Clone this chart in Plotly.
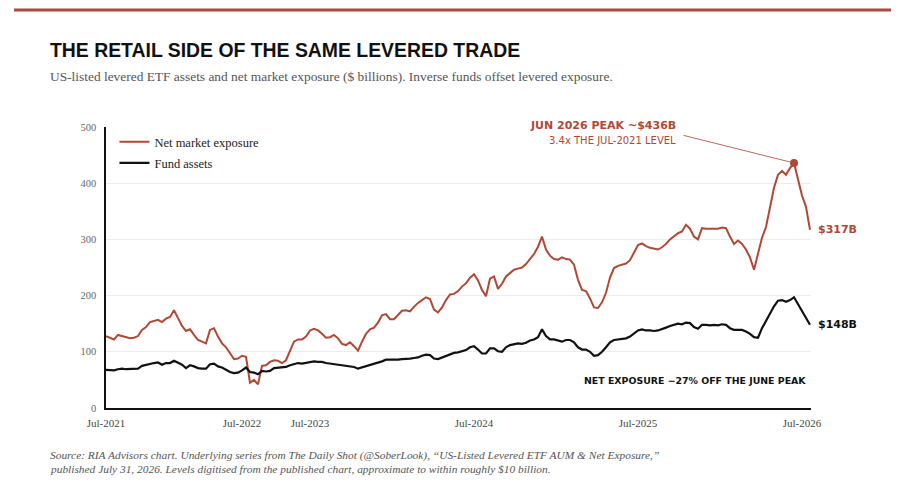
import plotly.graph_objects as go

# Weekly-ish readings, Jul-2021 .. end Jul-2026 ($ billions)
net_exposure = [
    128, 125, 122, 130, 128, 127, 124, 125, 128, 139,
    144, 153, 155, 157, 153, 159, 162, 174, 160, 146,
    137, 140, 130, 121, 118, 115, 139, 142, 127, 115,
    108, 97, 87, 88, 93, 91, 45, 50, 42, 75,
    76, 82, 85, 84, 80, 85, 100, 118, 122, 122,
    127, 138, 141, 138, 132, 125, 126, 130, 124, 114,
    112, 117, 110, 102, 118, 132, 140, 143, 152, 165,
    167, 158, 158, 166, 173, 174, 172, 180, 187, 192,
    197, 194, 175, 170, 179, 192, 202, 203, 208, 216,
    222, 232, 238, 227, 210, 199, 230, 234, 212, 221,
    234, 240, 246, 248, 250, 256, 264, 274, 287, 305,
    282, 271, 265, 264, 268, 265, 264, 255, 228, 210,
    208, 195, 179, 178, 188, 205, 232, 249, 253, 255,
    257, 263, 276, 290, 293, 288, 285, 283, 282, 286,
    292, 300, 306, 311, 314, 326, 319, 305, 300, 320,
    319, 319, 320, 319, 321, 320, 305, 292, 298, 292,
    282, 268, 246, 276, 303, 322, 358, 392, 415, 422,
    415, 427, 436, 408, 378, 358, 317,
]

fund_assets = [
    68, 68, 67, 69, 70, 69, 69, 69, 70, 75,
    77, 78, 80, 81, 77, 80, 80, 84, 81, 77,
    71, 76, 74, 71, 70, 70, 78, 79, 74, 72,
    68, 64, 62, 63, 67, 72, 64, 63, 60, 66,
    65, 66, 71, 72, 72, 73, 76, 78, 80, 79,
    80, 82, 83, 82, 82, 80, 79, 78, 78, 77,
    75, 74, 73, 70, 72, 74, 76, 79, 80, 83,
    86, 86, 85, 86, 87, 87, 88, 89, 90, 93,
    95, 94, 88, 87, 90, 93, 96, 98, 99, 101,
    103, 108, 110, 104, 97, 97, 106, 106, 101, 100,
    108, 112, 114, 115, 114, 116, 120, 122, 126, 140,
    128, 122, 122, 120, 118, 121, 121, 117, 108, 104,
    104, 100, 93, 94, 100, 108, 117, 121, 122, 123,
    124, 127, 133, 138, 140, 138, 138, 137, 138, 140,
    143, 146, 148, 150, 149, 152, 151, 144, 141, 148,
    148, 147, 148, 147, 149, 148, 142, 139, 139, 139,
    136, 132, 126, 125, 142, 155, 167, 181, 191, 192,
    189, 192, 197, 185, 171, 159, 148,
]

tick_labels = ["Jul-2021", "Jul-2022", "Jul-2023", "Jul-2024", "Jul-2025", "Jul-2026"]
tick_index = [0, 34, 51, 92, 133, 174]

RED = "#b04836"
BLACK = "#111111"
SERIF = "Liberation Serif, Times New Roman, serif"
SANS = "DejaVu Sans, Arial, sans-serif"

# the page body adds an 8px margin, so the figure is drawn 8px smaller
PAGE_PAD = 8
W, H = 904 - PAGE_PAD, 492 - PAGE_PAD
# plot area in page pixels, used to place the page furniture
L, R, T, B = 106, 811, 127, 408


def px(x, y):
    return (x - L) / (R - L), (B - y) / (B - T)


x = list(range(len(net_exposure)))
peak_i = max(x, key=lambda i: net_exposure[i])

fig = go.Figure()
fig.add_trace(go.Scatter(
    x=x, y=net_exposure, name="Net market exposure", mode="lines",
    legendgroup="a", line=dict(color=RED, width=2),
))
fig.add_trace(go.Scatter(
    x=x, y=fund_assets, name="Fund assets", mode="lines",
    legendgroup="b", line=dict(color=BLACK, width=2.2),
))
fig.add_trace(go.Scatter(
    x=[peak_i], y=[net_exposure[peak_i]], mode="markers", showlegend=False,
    marker=dict(color=RED, size=8),
))

annotations = []


def note(xp, yp, text, size, color, family, xanchor="left", align="left"):
    ax, ay = px(xp, yp)
    annotations.append(dict(
        xref="paper", yref="paper", x=ax, y=ay, text=text, showarrow=False,
        xanchor=xanchor, yanchor="middle", align=align,
        font=dict(size=size, color=color, family=family),
    ))


note(48, 50, "<b>THE RETAIL SIDE OF THE SAME LEVERED TRADE</b>", 19.4, "#111111",
     "Liberation Sans, Arial, sans-serif")
note(48, 77, "US-listed levered ETF assets and net market exposure ($ billions). "
     "Inverse funds offset levered exposure.", 13.4, "#555555", SERIF)
note(48, 455, "<i>Source: RIA Advisors chart. Underlying series from The Daily Shot (@SoberLook), "
     "\u201cUS-Listed Levered ETF AUM &amp; Net Exposure,\u201d</i>", 11.4, "#555555", SERIF)
note(48, 469, "<i>published July 31, 2026. Levels digitised from the published chart, "
     "approximate to within roughly $10 billion.</i>", 11.4, "#555555", SERIF)
note(678, 126, "<b>JUN 2026 PEAK ~$436B</b>", 11, RED, SANS, xanchor="right", align="right")
note(678, 140, "3.4x THE JUL-2021 LEVEL", 10, RED, SANS, xanchor="right", align="right")
note(695, 380, "<b>NET EXPOSURE \u221227% OFF THE JUNE PEAK</b>", 9.4, BLACK, SANS,
     xanchor="center", align="center")

# leader line from the peak label to the peak point
annotations.append(dict(
    x=peak_i, y=net_exposure[peak_i], xref="x", yref="y", text="",
    showarrow=True, arrowhead=0, arrowwidth=1, arrowcolor="#b86a5e",
    ax=-112, ay=-28, standoff=4,
))

# end-of-line value labels
for series, color in [(net_exposure, RED), (fund_assets, BLACK)]:
    annotations.append(dict(
        x=x[-1], y=series[-1], xref="x", yref="y", text=f"<b>${series[-1]}B</b>",
        showarrow=False, xanchor="left", yanchor="middle", xshift=6,
        font=dict(size=11, color=color, family=SANS),
    ))

rx0, ry = px(14, 10)
rx1, _ = px(891, 10)

fig.update_layout(
    width=W, height=H,
    margin=dict(l=L - PAGE_PAD, r=W - (R - PAGE_PAD), t=T - PAGE_PAD, b=H - (B - PAGE_PAD)),
    plot_bgcolor="white", paper_bgcolor="white",
    showlegend=True,
    legend=dict(
        x=0.012, y=1.0, xanchor="left", yanchor="top",
        bgcolor="rgba(0,0,0,0)",
        font=dict(size=12.5, color="#222222", family=SERIF),
        itemwidth=30, traceorder="grouped", tracegroupgap=2,
    ),
    xaxis=dict(
        range=[0, len(x) - 0.75],
        tickmode="array", tickvals=tick_index, ticktext=tick_labels,
        showgrid=False, zeroline=False,
        showline=True, linecolor=BLACK, linewidth=2,
        ticks="", tickfont=dict(size=11, color="#444444", family=SERIF),
        ticklabelstandoff=4,
    ),
    yaxis=dict(
        range=[0, 500], tickvals=[0, 100, 200, 300, 400, 500],
        showgrid=True, gridcolor="#ececec", gridwidth=1, zeroline=False,
        showline=True, linecolor=BLACK, linewidth=1.5,
        ticks="", tickfont=dict(size=10.5, color="#666666", family=SERIF),
        ticklabelstandoff=6,
    ),
    annotations=annotations,
    shapes=[dict(
        type="line", xref="paper", yref="paper",
        x0=rx0, x1=rx1, y0=ry, y1=ry,
        line=dict(color="#a84a3e", width=3),
    )],
)

fig.write_html("out.html")
